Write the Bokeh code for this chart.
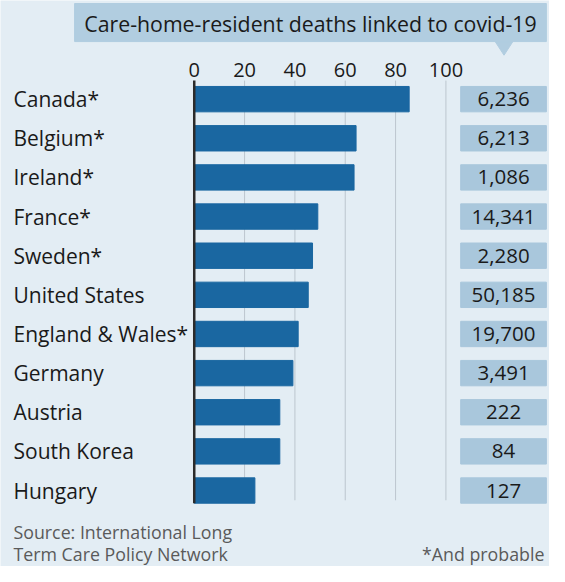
from bokeh.plotting import figure
from bokeh.models import Range1d
from bokeh.core.properties import value
from bokeh.embed import file_html
from bokeh.resources import INLINE

# ---- data ----
countries = ["Canada*", "Belgium*", "Ireland*", "France*", "Sweden*", "United States",
             "England & Wales*", "Germany", "Austria", "South Korea", "Hungary"]
share_pct = [85.4, 64.3, 63.5, 49.1, 47.0, 45.3, 41.3, 39.2, 34.0, 34.0, 24.1]
deaths = [6236, 6213, 1086, 14341, 2280, 50185, 19700, 3491, 222, 84, 127]
ticks = [0, 20, 40, 60, 80, 100]
tick_labels = [str(t) for t in ticks]
title_text = "Care-home-resident deaths linked to covid-19"
source_lines = ["Source: International Long", "Term Care Policy Network"]
note_text = "*And probable"

# ---- styling / layout ----
BG = "#e3edf4"
BAR = "#1a67a1"
BOX = "#a9c7dc"
TBOX = "#b1cde0"
TXT = "#1a1a1a"
GREY = "#5a5a5a"
FONT = value("Open Sans")

W, H = 549, 566
# map reference-layout pixels onto this figure
SX, AX = 0.985, -1.78
SY, AY = 0.976, -1.88
PX_PER_UNIT = 2.555 * SX       # px per percentage point
ZERO_PX = AX + SX * 198.5      # figure x of 0
ROW_STEP = 40.1 * SY
ROW0_PX = AY + SY * 103


def ux(rx):
    return (AX + SX * rx - ZERO_PX) / PX_PER_UNIT


def ry(rpy):
    return (AY + SY * rpy - ROW0_PX) / ROW_STEP


x0 = (0 - ZERO_PX) / PX_PER_UNIT
x1 = (W - ZERO_PX) / PX_PER_UNIT
y_top = (0 - ROW0_PX) / ROW_STEP
y_bot = (H - ROW0_PX) / ROW_STEP

p = figure(width=W, height=H, output_backend="svg", toolbar_location=None,
           x_range=Range1d(x0, x1), y_range=Range1d(y_bot, y_top),
           x_axis_type=None, y_axis_type=None, min_border=0,
           background_fill_color=BG, border_fill_color=BG, outline_line_color=None)
p.xgrid.visible = False
p.ygrid.visible = False

rows = list(range(len(countries)))
bar_h = 26 / 40.1

# gridlines
p.segment(x0=ticks[1:], x1=ticks[1:], y0=[ry(84)] * 5, y1=[ry(514)] * 5,
          line_color="#bcc6ce", line_width=1)

# bars
p.hbar(y=rows, left=0, right=share_pct, height=bar_h, color=BAR)

# zero line
p.segment(x0=[0], x1=[0], y0=[ry(84)], y1=[ry(517)], line_color="#2b2b2b", line_width=2.5)

# tick labels
p.text(x=ticks, y=[ry(73)] * len(ticks), text=tick_labels, text_font=FONT,
       text_font_size="20px", text_color=TXT, text_align="center", text_baseline="middle")

# country labels
p.text(x=[ux(15)] * len(rows), y=rows, text=countries, text_font=FONT,
       text_font_size="21px", text_color=TXT, text_align="left", text_baseline="middle")

# value boxes
bx = (ux(469) + ux(556)) / 2
bw = ux(556) - ux(469)
p.rect(x=[bx] * len(rows), y=rows, width=bw, height=bar_h, color=BOX)
p.text(x=[bx] * len(rows), y=rows, text=[f"{d:,}" for d in deaths], text_font=FONT,
       text_font_size="20.5px", text_color=TXT, text_align="center", text_baseline="middle")

# title box with pointer
p.quad(left=[ux(77)], right=[ux(556)], top=[ry(5)], bottom=[ry(44)], color=TBOX)
p.patch(x=[ux(504), ux(522), ux(513)], y=[ry(44), ry(44), ry(58)], color=TBOX)
p.text(x=[(ux(77) + ux(556)) / 2], y=[ry(25)], text=[title_text], text_font=FONT,
       text_font_size="21.3px", text_color=TXT, text_align="center", text_baseline="middle")

# footer
p.text(x=[ux(15)] * 2, y=[ry(546), ry(569)], text=source_lines, text_font=FONT,
       text_font_size="17.8px", text_color=GREY, text_align="left", text_baseline="middle")
p.text(x=[ux(554)], y=[ry(569)], text=[note_text], text_font=FONT,
       text_font_size="17.8px", text_color=GREY, text_align="right", text_baseline="middle")

open("out.html", "w").write(file_html(p, INLINE))
